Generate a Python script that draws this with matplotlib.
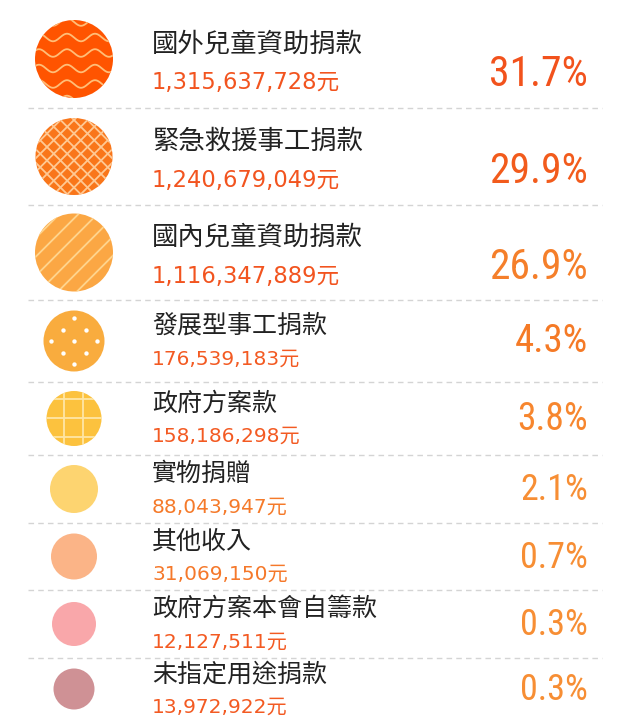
import numpy as np
import matplotlib
matplotlib.use("Agg")
import matplotlib.pyplot as plt
from matplotlib.patches import Circle
from matplotlib import font_manager

# 收入來源資料
categories = ["國外兒童資助捐款", "緊急救援事工捐款", "國內兒童資助捐款",
              "發展型事工捐款", "政府方案款", "實物捐贈", "其他收入",
              "政府方案本會自籌款", "未指定用途捐款"]
amounts = [1315637728, 1240679049, 1116347889, 176539183, 158186298,
           88043947, 31069150, 12127511, 13972922]
shares = [31.7, 29.9, 26.9, 4.3, 3.8, 2.1, 0.7, 0.3, 0.3]

# 樣式
fill_colors = ["#FF5400", "#F9761A", "#FBA744", "#F9AC3E", "#FCC23E",
               "#FDD470", "#FBB487", "#F9A7AA", "#CF9195"]
pattern_colors = ["#FFBE78", "#FFC994", "#FFD58E", "#FFFFFF", "#FFE6A6",
                  None, None, None, None]
patterns = ["wave", "cross", "stripe", "dots", "grid", None, None, None, None]
pct_colors = ["#F2521C", "#F25B1C", "#F57F2A", "#F57A26", "#F7862E",
              "#F78E34", "#F78E34", "#F78E34", "#F78E34"]
amt_colors = ["#F2541F", "#F2541F", "#F2541F", "#F35A22", "#F35A22",
              "#F57A2A", "#F5782A", "#F35A22", "#F35A22"]
icon_radius = [39, 38.5, 39, 30.5, 27.5, 24, 23, 22, 20.5]
row_edges = [10, 108, 205, 300, 382, 455, 523, 590, 658, 720]

W, H = 626, 720
CJK = "Noto Sans CJK TC"


def pick_narrow():
    # 找一個窄體字型給百分比用
    prefs = ["Liberation Sans Narrow", "Roboto Condensed", "DejaVu Sans",
             "Open Sans Condensed", "Noto Sans", "Arial Narrow"]
    found = []
    for f in font_manager.fontManager.ttflist:
        narrowish = ("Narrow" in f.name or "Condensed" in f.name
                     or f.stretch in ("condensed", "semi-condensed", "extra-condensed"))
        if narrowish and f.style == "normal" and f.weight in (400, "normal", "regular", 500, "medium"):
            found.append(f)
    for p in prefs:
        for f in found:
            if f.name == p:
                return f.fname
    if found:
        return found[0].fname
    return None


narrow_path = pick_narrow()

fig = plt.figure(figsize=(W / 100, H / 100), dpi=100)
ax = fig.add_axes([0, 0, 1, 1])
ax.set_xlim(0, W)
ax.set_ylim(H, 0)
ax.set_aspect("equal")
ax.axis("off")


def add_pattern(kind, cx, cy, r, color, clip):
    arts = []
    if kind == "wave":
        xs = np.linspace(cx - r, cx + r, 200)
        for off in np.arange(-r + 2, r + 8, 15.5):
            ys = cy + off + 3.8 * np.sin(2 * np.pi * (xs - cx) / 28)
            arts += ax.plot(xs, ys, color=color, lw=1.3)
    elif kind == "cross":
        t = np.array([-2 * r, 2 * r])
        for off in np.arange(-2 * r, 2 * r, 13.5):
            arts += ax.plot(cx + t, cy + t + off, color=color, lw=1.3)
            arts += ax.plot(cx + t, cy - t + off, color=color, lw=1.3)
    elif kind == "stripe":
        t = np.array([-2 * r, 2 * r])
        for off in np.arange(-2 * r + 6, 2 * r, 19):
            arts += ax.plot(cx + t, cy - t + off, color=color, lw=1.3)
    elif kind == "dots":
        pts = []
        for i in range(-3, 4):
            for j in range(-3, 4):
                px = cx + 11.5 * (i + j)
                py = cy + 11.5 * (i - j)
                if (px - cx) ** 2 + (py - cy) ** 2 < (r - 3) ** 2:
                    pts.append((px, py))
        pts = np.array(pts)
        arts.append(ax.scatter(pts[:, 0], pts[:, 1], s=10, color=color,
                               linewidths=0, zorder=3))
    elif kind == "grid":
        for off in np.arange(-2 * 19 + 9, 2 * 19 + 10, 19):
            arts += ax.plot([cx + off, cx + off], [cy - r, cy + r], color=color, lw=1.3)
        for off in np.arange(-2 * 19 - 1, 2 * 19, 19):
            arts += ax.plot([cx - r, cx + r], [cy + off, cy + off], color=color, lw=1.3)
    for a in arts:
        a.set_clip_path(clip)


for i, cat in enumerate(categories):
    top, bot = row_edges[i], row_edges[i + 1]
    cy = (top + bot) / 2
    big = i < 3
    cx = 74
    circ = Circle((cx, cy), icon_radius[i], facecolor=fill_colors[i],
                  edgecolor="none", zorder=2)
    ax.add_patch(circ)
    if patterns[i]:
        add_pattern(patterns[i], cx, cy, icon_radius[i], pattern_colors[i], circ)

    ax.text(152, cy - 15, cat, family=[CJK, "DejaVu Sans"],
            fontsize=19 if big else 18, color="#222222", va="center", ha="left")
    ax.text(152, cy + (24 if big else 18), f"{amounts[i]:,}元",
            family=["DejaVu Sans", CJK], fontsize=16.3 if big else 14.5,
            color=amt_colors[i], va="center", ha="left")
    pct_size = [30, 30, 30, 28, 27, 26, 26, 26, 26][i]
    if narrow_path:
        fp = font_manager.FontProperties(fname=narrow_path, size=pct_size)
    else:
        fp = font_manager.FontProperties(family=CJK, size=pct_size * 0.85)
    ax.text(588, cy + (15 if big else 1), f"{shares[i]}%", fontproperties=fp,
            color=pct_colors[i], va="center", ha="right")

    if i < len(categories) - 1:
        ax.plot([28, 602], [bot, bot], color="#D4D4D4", lw=1, dashes=(4, 3))

fig.savefig("out.png", dpi=100, facecolor="white")
